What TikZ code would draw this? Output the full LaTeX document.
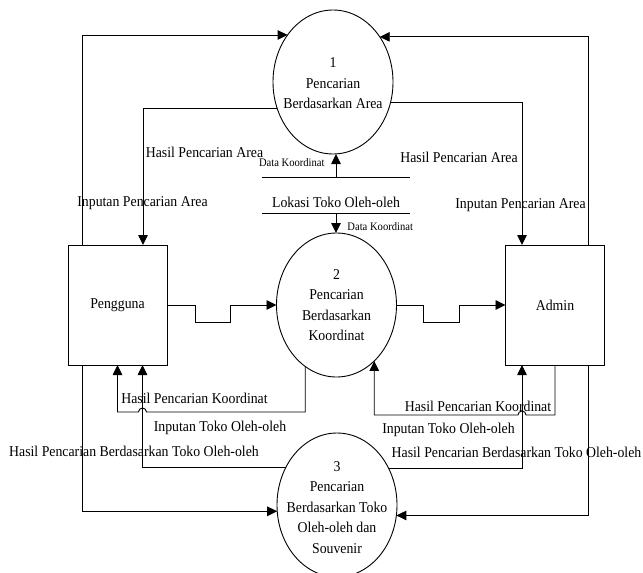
\documentclass[tikz,border=0pt]{standalone}
\usepackage{fontspec}
\setmainfont{Liberation Serif}[FakeStretch=0.92]
\usetikzlibrary{arrows.meta, positioning, shapes.geometric}

\begin{document}
\begin{tikzpicture}[
  x=1pt, y=-1pt,
  line width=0.9pt,
  every node/.style={font=\fontsize{15}{20.5}\selectfont, align=center},
  procnode/.style={draw, ellipse, minimum width=120pt, minimum height=144pt, inner sep=0pt, outer sep=0pt},
  entitybox/.style={draw, minimum width=99pt, minimum height=120pt, inner sep=0pt, outer sep=0pt},
  storebox/.style={minimum width=148pt, minimum height=35pt, inner sep=0pt, text height=23pt, text depth=0pt},
  flowlabel/.style={inner sep=0pt, text height=10pt, text depth=3pt},
  smalllabel/.style={font=\fontsize{11.5}{13}\selectfont, inner sep=0pt, text height=7.5pt, text depth=2.5pt},
  arr/.style={-{Triangle[length=10pt, width=9.5pt]}}
]
\useasboundingbox (0,0) rectangle (643,573);

% Processes
\node[procnode] (proc1) at (333,82) {};
\node (proc1txt) at (333,83.5) {1\\Pencarian\\Berdasarkan Area};
\node[procnode] (proc2) at (336.5,305) {};
\node (proc2txt) at (336.5,305) {2\\Pencarian\\Berdasarkan\\Koordinat};
\node[procnode] (proc3) at (337,505) {};
\node (proc3txt) at (337,507.5) {3\\Pencarian\\Berdasarkan Toko\\Oleh-oleh dan\\Souvenir};

% External entities
\node[entitybox] (peng) at (117.5,305) {Pengguna};
\node[entitybox] (admin) at (555,305) {Admin};

% Data store
\node[storebox] (store) at (336,195.5) {Lokasi Toko Oleh-oleh};
\draw (store.north west) -- (store.north east);
\draw (store.south west) -- (store.south east);
\draw[arr] (store.north) -- (store.north |- proc1.south);
\draw[arr] (store.south) -- (store.south |- proc2.north);
\node[smalllabel, above left=8pt and 11pt of store.north] (dk1) {Data Koordinat};
\node[smalllabel, below right=9.5pt and 11pt of store.south] (dk2) {Data Koordinat};

% Pencarian Area
\draw[arr] ([xshift=-35.5pt]peng.north) |- (proc1.134);
\draw[arr] (proc1.205) -| ([xshift=25.5pt]peng.north);
\draw[arr] ([xshift=33pt]admin.north) |- (proc1.44);
\draw[arr] (proc1.340) -| ([xshift=-33pt]admin.north);
\node[flowlabel] (inAreaL) at (142.5,202.5) {Inputan Pencarian Area};
\node[flowlabel] (hasilAreaL) at (204.5,153.5) {Hasil Pencarian Area};
\node[flowlabel] (hasilAreaR) at (459,158.5) {Hasil Pencarian Area};
\node[flowlabel] (inAreaR) at (520.5,204.5) {Inputan Pencarian Area};

% Pencarian Koordinat
\draw[arr] (peng.east) -- ++(28,0) -- ++(0,17) -- ++(35,0) -- ++(0,-17) -- (proc2.west);
\draw[arr] (proc2.east) -- ++(27,0) -- ++(0,17) -- ++(36,0) -- ++(0,-17) -- (admin.west);
\draw[arr] (proc2.243) |- (146.5,412) arc[start angle=0, end angle=-180, radius=4] -| (peng.south);
\draw[arr] (admin.south) |- (526,415) arc[start angle=0, end angle=-180, radius=4] -| (proc2.304);
\node[flowlabel] (koorL) at (194.5,399.5) {Hasil Pencarian Koordinat};
\node[flowlabel] (koorR) at (478,407.5) {Hasil Pencarian Koordinat};

% Pencarian Toko Oleh-oleh
\draw[arr] (proc3.144) -| ([xshift=25pt]peng.south);
\draw[arr] ([xshift=-35.5pt]peng.south) |- (proc3.186);
\draw[arr] (proc3.35) -| ([xshift=-33pt]admin.south);
\draw[arr] ([xshift=33pt]admin.south) |- (proc3.350);
\node[flowlabel] (inTokoL) at (220,428) {Inputan Toko Oleh-oleh};
\node[flowlabel] (tokoL) at (134,452.5) {Hasil Pencarian Berdasarkan Toko Oleh-oleh};
\node[flowlabel] (inTokoR) at (448.5,429.5) {Inputan Toko Oleh-oleh};
\node[flowlabel] (tokoR) at (516.5,454) {Hasil Pencarian Berdasarkan Toko Oleh-oleh};

\end{tikzpicture}
\end{document}
